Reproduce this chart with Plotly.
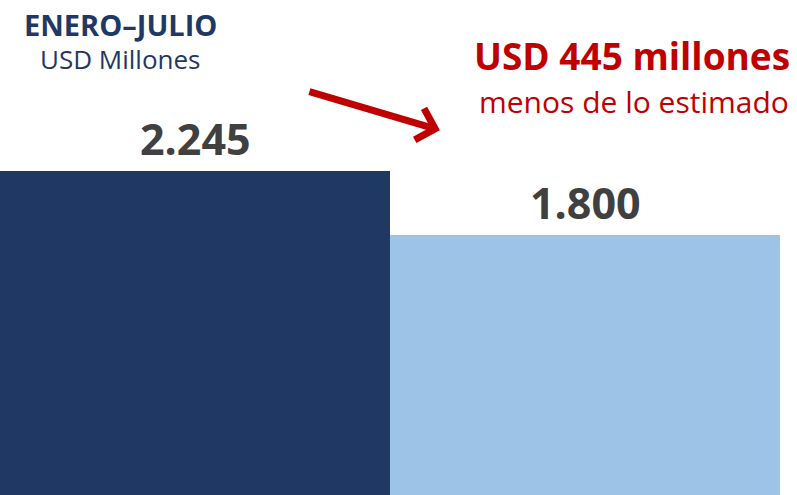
import plotly.graph_objects as go

# datos enero-julio, USD millones
categorias = ["Estimado", "Real"]
valores = [2245, 1800]
colores = ["#1F3864", "#9DC3E6"]

titulo = "ENERO–JULIO"
subtitulo = "USD Millones"
diferencia = "USD 445 millones"
nota = "menos de lo estimado"

FONT = "Open Sans"

fig = go.Figure()
fig.add_trace(go.Bar(
    x=categorias,
    y=valores,
    marker=dict(color=colores, line=dict(width=0)),
    showlegend=False,
    hoverinfo="skip",
))

# etiquetas de valor sobre cada barra
for cat, val in zip(categorias, valores):
    fig.add_annotation(
        x=cat, y=val, xref="x", yref="y",
        text=f"{val:,}".replace(",", "."),
        showarrow=False, yanchor="bottom", yshift=1,
        font=dict(family=FONT, size=43, color="#404040", weight="bold"),
    )

# encabezado izquierdo
fig.add_annotation(
    x=0.154, y=0.95, xref="paper", yref="paper",
    text=f"<b>{titulo}</b>", showarrow=False,
    xanchor="center", yanchor="middle",
    font=dict(family=FONT, size=29, color="#1F3864"),
)
fig.add_annotation(
    x=0.154, y=0.88, xref="paper", yref="paper",
    text=subtitulo, showarrow=False,
    xanchor="center", yanchor="middle",
    font=dict(family=FONT, size=26, color="#1F3864"),
)

# texto en rojo a la derecha
fig.add_annotation(
    x=1.016, y=0.888, xref="paper", yref="paper",
    text=f"<b>{diferencia}</b>", showarrow=False,
    xanchor="right", yanchor="middle",
    font=dict(family=FONT, size=37, color="#C00000"),
)
fig.add_annotation(
    x=1.014, y=0.794, xref="paper", yref="paper",
    text=nota, showarrow=False,
    xanchor="right", yanchor="middle",
    font=dict(family=FONT, size=30, color="#C00000"),
)

# flecha
fig.add_annotation(
    x=0.564, y=0.737, xref="paper", yref="paper",
    ax=-132, ay=-39, text="",
    showarrow=True, arrowhead=4, arrowsize=0.9, arrowwidth=7,
    arrowcolor="#C00000",
)

fig.update_layout(
    width=797, height=495,
    margin=dict(l=0, r=17, t=0, b=0),
    bargap=0,
    plot_bgcolor="white", paper_bgcolor="white",
    xaxis=dict(visible=False, range=[-0.5, 1.5]),
    yaxis=dict(visible=False, range=[0, 3425]),
)

fig.write_html("out.html", config={"displayModeBar": False},
               post_script="document.body.style.margin='0';")
